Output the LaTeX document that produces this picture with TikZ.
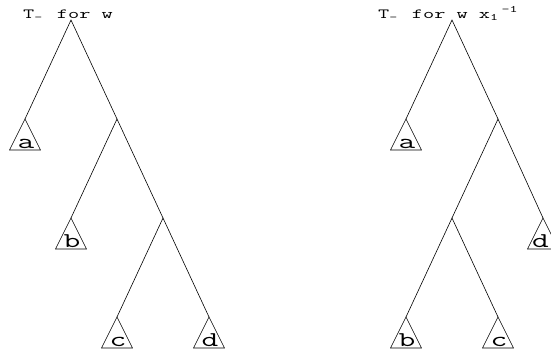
\documentclass[tikz,border=0pt]{standalone}
\usepackage{fontspec}
\usetikzlibrary{calc}

% wide typewriter text, as the picture prints it
\newcommand{\widett}[1]{\scalebox{1.55}[1]{#1}}
% sub/superscript that keeps a whole typewriter cell
\newcommand{\cellsub}[1]{\makebox[0.525em][l]{\textsubscript{#1}}}

% leaf subtree: small triangle hanging from a named apex, letter inside
\newcommand{\subtree}[3][1]{%
  \draw[treeline] (#2) -- ++(-15.5,31) -- ++(31,0) -- cycle;
  \node[leaflabel] (#2-lbl) at ($(#2)+(#1,29.5)$) {\widett{#3}};
}

\begin{document}
\begin{tikzpicture}[
  x=1pt, y=-1pt,
  treeline/.style={line width=0.6pt, draw=black},
  title/.style={font=\ttfamily\fontsize{14}{16}\selectfont,
    anchor=base west, inner sep=0pt},
  leaflabel/.style={font=\ttfamily\fontsize{21}{24}\selectfont,
    anchor=base, inner sep=0pt},
]
\useasboundingbox (0,0) rectangle (551,354);

% left tree
\node[title] (titleL) at (23,18) {\widett{T\cellsub{-} for w}};
\coordinate (L0) at (71,20);
\coordinate (La) at (25,119);
\coordinate (L1) at (117,119);
\coordinate (Lb) at (71,218);
\coordinate (L2) at (163,218);
\coordinate (Lc) at (117,317);
\coordinate (Ld) at (209,317);

\draw[treeline] (La) -- (L0) -- (L1);
\draw[treeline] (Lb) -- (L1) -- (L2);
\draw[treeline] (Lc) -- (L2) -- (Ld);
\subtree{La}{a}
\subtree{Lb}{b}
\subtree{Lc}{c}
\subtree{Ld}{d}

% right tree
\node[title] (titleR) at (378,18)
  {\widett{T\cellsub{-} for w x\cellsub{1}\textsuperscript{-1}}};
\coordinate (R0) at (452,20);
\coordinate (Ra) at (406,119);
\coordinate (R1) at (498,119);
\coordinate (R2) at (452,218);
\coordinate (Rd) at (543,218);
\coordinate (Rb) at (406,317);
\coordinate (Rc) at (498,317);

\draw[treeline] (Ra) -- (R0) -- (R1);
\draw[treeline] (R2) -- (R1) -- (Rd);
\draw[treeline] (Rb) -- (R2) -- (Rc);
\subtree{Ra}{a}
\subtree[-2.5]{Rd}{d}
\subtree{Rb}{b}
\subtree{Rc}{c}

\end{tikzpicture}
\end{document}
